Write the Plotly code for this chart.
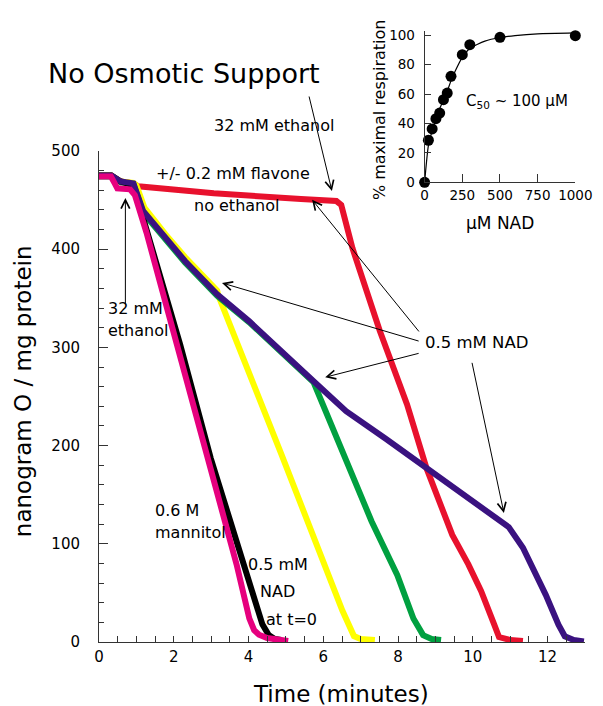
import plotly.graph_objects as go

# ---------------- main panel data (time in minutes, nanogram O / mg protein) -------------
t_red = [0, 0.33, 0.58, 0.92, 1.05, 3.07, 5.40, 6.35, 6.48, 6.78, 7.51, 8.24, 8.76, 9.10, 9.45, 9.88, 10.22, 10.57, 10.70, 11.0, 11.34]
o_red = [475, 475, 469, 467, 464, 457, 451, 449, 445, 401, 317, 242, 177, 143, 109, 79, 52, 18, 5, 2, 1]

t_yel = [0, 0.33, 0.58, 0.92, 1.0, 1.22, 1.78, 2.30, 3.16, 3.20, 4.88, 6.51, 6.82, 7.0, 7.38]
o_yel = [475, 475, 469, 467.5, 465, 442, 415, 392, 358, 352, 191, 32, 6, 3, 2]

t_grn = [0, 0.33, 0.58, 0.92, 1.18, 1.78, 2.30, 3.16, 4.02, 5.74, 5.92, 6.35, 6.52, 7.29, 7.98, 8.41, 8.67, 8.9, 9.15]
o_grn = [474, 474, 468, 466.5, 437, 409.5, 386.5, 352.5, 325.5, 264.5, 248, 208, 191, 123, 68, 24, 7, 3, 2]

t_blk = [0, 0.33, 0.58, 0.92, 1.14, 2.17, 2.99, 3.85, 4.37, 4.54, 4.7, 4.88]
o_blk = [475, 475, 469, 465, 437, 303, 187, 79, 18, 7, 3, 2]

t_pur = [0, 0.33, 0.58, 0.92, 1.18, 1.78, 2.30, 3.16, 4.02, 5.74, 6.61, 7.67, 8.80, 10.74, 10.96, 11.34, 11.95, 12.29, 12.46, 12.7, 12.97]
o_pur = [475, 475, 469, 467, 439, 411, 388, 354, 326.5, 265.5, 235, 207, 175.5, 123, 117, 96, 48, 17.6, 5.8, 2, 0.5]

t_mag = [0, 0.32, 0.42, 0.49, 0.83, 0.96, 1.27, 2.13, 2.90, 3.68, 4.02, 4.15, 4.28, 4.50, 5.06]
o_mag = [474, 474, 467, 462, 461, 455, 417, 297, 189, 79, 24, 12, 7.4, 4, 1]

# ---------------- inset data -------------
nad_conc = [0, 25, 50, 75, 100, 125, 150, 175, 250, 300, 500, 1000]
resp_pct = [0, 28.6, 36.3, 43.3, 47.1, 56.2, 60.7, 72.1, 86.8, 93.6, 98.6, 99.7]
fit_x = [0, 25, 50, 75, 100, 125, 150, 175, 200, 250, 300, 400, 500, 600, 750, 1000]
fit_y = [0, 25, 35, 43, 50, 56, 62, 69, 75, 85, 91, 96, 98.5, 99.8, 101, 101.6]

main_xticks = [0, 2, 4, 6, 8, 10, 12]
main_yticks = [0, 100, 200, 300, 400, 500]
inset_xticks = [0, 250, 500, 750, 1000]
inset_yticks = [0, 20, 40, 60, 80, 100]

FONT = "DejaVu Sans"
AX = "#333333"

fig = go.Figure()

series = [
    (t_red, o_red, "#E8112D"),
    (t_yel, o_yel, "#FFFF00"),
    (t_grn, o_grn, "#00A040"),
    (t_blk, o_blk, "#000000"),
    (t_pur, o_pur, "#3A1280"),
    (t_mag, o_mag, "#E6007E"),
]
for tx, oy, col in series:
    fig.add_trace(go.Scatter(x=tx, y=oy, mode="lines", line=dict(color=col, width=6),
                             showlegend=False, hoverinfo="skip", cliponaxis=False,
                             xaxis="x", yaxis="y"))

fig.add_trace(go.Scatter(x=fit_x, y=fit_y, mode="lines", line=dict(color="black", width=1.2, shape="spline", smoothing=0.6),
                         showlegend=False, hoverinfo="skip", xaxis="x2", yaxis="y2", cliponaxis=False))
fig.add_trace(go.Scatter(x=nad_conc, y=resp_pct, mode="markers", marker=dict(color="black", size=11),
                         showlegend=False, hoverinfo="skip", xaxis="x2", yaxis="y2", cliponaxis=False))

ann = []
DY_DATA = 7.1      # upward nudge (data units of main y) to centre texts
DY_PAPER = 0.0114  # same nudge in paper units

def txt(x, y, s, size=16, xanchor="center", xref="x", yref="y", angle=0):
    if yref == "y":
        y = y + DY_DATA
    elif yref == "paper" and angle == 0:
        y = y + DY_PAPER
    elif yref == "y2":
        y = y + 4.8
    ann.append(dict(x=x, y=y, xref=xref, yref=yref, text=s, showarrow=False, xanchor=xanchor,
                    yanchor="middle", textangle=angle, font=dict(family=FONT, size=size, color="black")))

def arrow(x0, y0, x1, y1):
    ann.append(dict(x=x1, y=y1, ax=x0, ay=y0, xref="x", yref="y", axref="x", ayref="y", text="",
                    showarrow=True, arrowhead=5, arrowsize=1.7, arrowwidth=1, arrowcolor="black",
                    standoff=0, startstandoff=0))

# texts outside the data ranges use paper coordinates
txt(0.175, 0.9153, "No Osmotic Support", size=27, xref="paper", yref="paper")
txt(0.3598, 0.8306, "32 mM ethanol", xref="paper", yref="paper")
txt(3.59, 469.5, "+/- 0.2 mM flavone")
txt(3.67, 436.9, "no ethanol")
txt(0.18, 332, "32 mM", xanchor="left")
txt(0.18, 309.6, "ethanol", xanchor="left")
txt(1.45, 126.3, "0.6 M", xanchor="left")
txt(1.45, 104.2, "mannitol", xanchor="left")
txt(4.79, 72.3, "0.5 mM")
txt(4.78, 44.8, "NAD")
txt(5.14, 16.3, "at t=0")
txt(10.1, 297.7, "0.5 mM NAD", size=16.5)
txt(610, 50.5, "C<sub>50</sub> ~ 100 µM", size=15, xref="x2", yref="y2")

# axis titles
txt(0.497, -0.0961, "Time (minutes)", size=23, xref="paper", yref="paper")
txt(-0.155, 0.408, "nanogram O / mg protein", size=23, xref="paper", yref="paper", angle=-90)
txt(0.5785, 0.8665, "% maximal respiration", size=16, xref="paper", yref="paper", angle=-90)
txt(0.825, 0.671, "µM NAD", size=17, xref="paper", yref="paper")

arrow(5.61, 557, 6.23, 459.3)
arrow(0.706, 343, 0.706, 452)
arrow(8.59, 306, 3.29, 365.6)
arrow(8.59, 294.3, 6.05, 269.6)
arrow(8.59, 314.7, 5.70, 450.4)
arrow(9.97, 285.8, 10.83, 131.4)

tickfont = dict(family=FONT, size=15, color="black")
fig.update_layout(
    width=603, height=706, autosize=False,
    margin=dict(l=91, r=9, t=20, b=72),
    paper_bgcolor="white", plot_bgcolor="white",
    annotations=ann,
    xaxis=dict(domain=[0, 1], range=[0, 13], anchor="y", showline=True, linecolor=AX, linewidth=1,
               ticks="inside", ticklen=6, tickwidth=1, tickcolor=AX, tickvals=main_xticks,
               minor=dict(dtick=0.5, tick0=0, ticks="inside", ticklen=6, tickcolor=AX, tickwidth=1),
               showgrid=False, zeroline=False, tickfont=tickfont, ticklabelstandoff=1),
    yaxis=dict(domain=[0, 0.7997], range=[0, 500], anchor="x", showline=True, linecolor=AX, linewidth=1,
               ticks="inside", ticklen=9, tickwidth=1, tickcolor=AX, tickvals=main_yticks,
               minor=dict(dtick=20, tick0=0, ticks="inside", ticklen=5, tickcolor=AX, tickwidth=1),
               showgrid=False, zeroline=False, tickfont=tickfont, ticklabelstandoff=15),
    xaxis2=dict(domain=[0.6700, 0.9801], range=[0, 1000], anchor="y2", showline=True, linecolor=AX,
                linewidth=1, ticks="inside", ticklen=8, tickcolor=AX, tickvals=inset_xticks,
                showgrid=False, zeroline=False, tickfont=dict(family=FONT, size=13.5, color="black"),
                ticklabelstandoff=1),
    yaxis2=dict(domain=[0.7487, 0.9953], range=[0, 103], anchor="x2", showline=True, linecolor=AX,
                linewidth=1, ticks="inside", ticklen=6, tickcolor=AX, tickvals=inset_yticks,
                showgrid=False, zeroline=False, tickfont=dict(family=FONT, size=13.5, color="black"),
                ticklabelstandoff=6),
)

fig.write_html("out.html")
